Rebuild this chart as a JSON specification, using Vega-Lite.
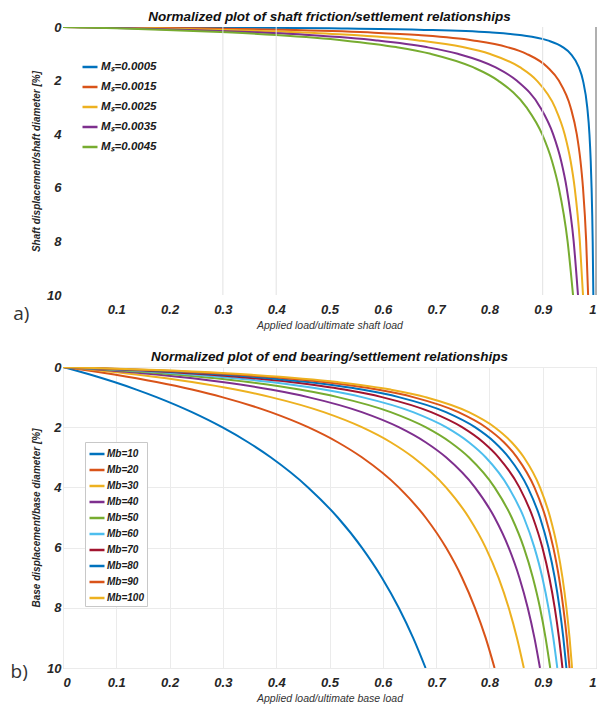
{
  "$schema": "https://vega.github.io/schema/vega-lite/v6.json",
  "background": "white",
  "padding": {"left": 10, "top": 9, "right": 5, "bottom": 3},
  "spacing": 18,
  "config": {
    "font": "Liberation Sans",
    "view": {"stroke": null},
    "title": {"font": "Liberation Sans", "fontSize": 13.5, "fontStyle": "italic", "fontWeight": "bold", "color": "#111111", "offset": -2},
    "axis": {"labelFont": "Liberation Sans", "labelFontSize": 13, "labelFontStyle": "italic", "labelFontWeight": "bold", "labelColor": "#262626", "titleFont": "Liberation Sans", "titleFontStyle": "italic", "titleColor": "#262626", "ticks": false, "tickSize": 0, "domain": false},
    "axisX": {"titleFontSize": 10.5, "titleFontWeight": "normal", "titleColor": "#333333", "labelPadding": 8, "titlePadding": 4},
    "axisY": {"titleFontSize": 10, "titleFontWeight": "bold", "labelPadding": 2, "titlePadding": 5},
    "legend": {"title": null, "labelFont": "Liberation Sans", "labelFontWeight": "bold", "labelFontStyle": "italic", "labelColor": "#1a1a1a", "symbolType": "stroke", "orient": "none"}
  },
  "resolve": {"scale": {"color": "independent"}, "legend": {"color": "independent"}},
  "datasets": {
    "shaft": [
      {"m":"Mₛ=0.0005","x":0,"y":0},{"m":"Mₛ=0.0005","x":0.1667,"y":0.01},{"m":"Mₛ=0.0005","x":0.2857,"y":0.02},{"m":"Mₛ=0.0005","x":0.5,"y":0.05},{"m":"Mₛ=0.0005","x":0.6667,"y":0.1},{"m":"Mₛ=0.0005","x":0.8,"y":0.2},{"m":"Mₛ=0.0005","x":0.8571,"y":0.3},{"m":"Mₛ=0.0005","x":0.9091,"y":0.5},{"m":"Mₛ=0.0005","x":0.9375,"y":0.75},{"m":"Mₛ=0.0005","x":0.9524,"y":1},{"m":"Mₛ=0.0005","x":0.9677,"y":1.5},{"m":"Mₛ=0.0005","x":0.9756,"y":2},{"m":"Mₛ=0.0005","x":0.9836,"y":3},{"m":"Mₛ=0.0005","x":0.9877,"y":4},{"m":"Mₛ=0.0005","x":0.9901,"y":5},{"m":"Mₛ=0.0005","x":0.9917,"y":6},{"m":"Mₛ=0.0005","x":0.9938,"y":8},{"m":"Mₛ=0.0005","x":0.995,"y":10},
      {"m":"Mₛ=0.0015","x":0,"y":0},{"m":"Mₛ=0.0015","x":0.0625,"y":0.01},{"m":"Mₛ=0.0015","x":0.1176,"y":0.02},{"m":"Mₛ=0.0015","x":0.25,"y":0.05},{"m":"Mₛ=0.0015","x":0.4,"y":0.1},{"m":"Mₛ=0.0015","x":0.5714,"y":0.2},{"m":"Mₛ=0.0015","x":0.6667,"y":0.3},{"m":"Mₛ=0.0015","x":0.7692,"y":0.5},{"m":"Mₛ=0.0015","x":0.8333,"y":0.75},{"m":"Mₛ=0.0015","x":0.8696,"y":1},{"m":"Mₛ=0.0015","x":0.9091,"y":1.5},{"m":"Mₛ=0.0015","x":0.9302,"y":2},{"m":"Mₛ=0.0015","x":0.9524,"y":3},{"m":"Mₛ=0.0015","x":0.9639,"y":4},{"m":"Mₛ=0.0015","x":0.9709,"y":5},{"m":"Mₛ=0.0015","x":0.9756,"y":6},{"m":"Mₛ=0.0015","x":0.9816,"y":8},{"m":"Mₛ=0.0015","x":0.9852,"y":10},
      {"m":"Mₛ=0.0025","x":0,"y":0},{"m":"Mₛ=0.0025","x":0.0385,"y":0.01},{"m":"Mₛ=0.0025","x":0.0741,"y":0.02},{"m":"Mₛ=0.0025","x":0.1667,"y":0.05},{"m":"Mₛ=0.0025","x":0.2857,"y":0.1},{"m":"Mₛ=0.0025","x":0.4444,"y":0.2},{"m":"Mₛ=0.0025","x":0.5455,"y":0.3},{"m":"Mₛ=0.0025","x":0.6667,"y":0.5},{"m":"Mₛ=0.0025","x":0.75,"y":0.75},{"m":"Mₛ=0.0025","x":0.8,"y":1},{"m":"Mₛ=0.0025","x":0.8571,"y":1.5},{"m":"Mₛ=0.0025","x":0.8889,"y":2},{"m":"Mₛ=0.0025","x":0.9231,"y":3},{"m":"Mₛ=0.0025","x":0.9412,"y":4},{"m":"Mₛ=0.0025","x":0.9524,"y":5},{"m":"Mₛ=0.0025","x":0.96,"y":6},{"m":"Mₛ=0.0025","x":0.9697,"y":8},{"m":"Mₛ=0.0025","x":0.9756,"y":10},
      {"m":"Mₛ=0.0035","x":0,"y":0},{"m":"Mₛ=0.0035","x":0.0278,"y":0.01},{"m":"Mₛ=0.0035","x":0.0541,"y":0.02},{"m":"Mₛ=0.0035","x":0.125,"y":0.05},{"m":"Mₛ=0.0035","x":0.2222,"y":0.1},{"m":"Mₛ=0.0035","x":0.3636,"y":0.2},{"m":"Mₛ=0.0035","x":0.4615,"y":0.3},{"m":"Mₛ=0.0035","x":0.5882,"y":0.5},{"m":"Mₛ=0.0035","x":0.6818,"y":0.75},{"m":"Mₛ=0.0035","x":0.7407,"y":1},{"m":"Mₛ=0.0035","x":0.8108,"y":1.5},{"m":"Mₛ=0.0035","x":0.8511,"y":2},{"m":"Mₛ=0.0035","x":0.8955,"y":3},{"m":"Mₛ=0.0035","x":0.9195,"y":4},{"m":"Mₛ=0.0035","x":0.9346,"y":5},{"m":"Mₛ=0.0035","x":0.9449,"y":6},{"m":"Mₛ=0.0035","x":0.9581,"y":8},{"m":"Mₛ=0.0035","x":0.9662,"y":10},
      {"m":"Mₛ=0.0045","x":0,"y":0},{"m":"Mₛ=0.0045","x":0.0217,"y":0.01},{"m":"Mₛ=0.0045","x":0.0426,"y":0.02},{"m":"Mₛ=0.0045","x":0.1,"y":0.05},{"m":"Mₛ=0.0045","x":0.1818,"y":0.1},{"m":"Mₛ=0.0045","x":0.3077,"y":0.2},{"m":"Mₛ=0.0045","x":0.4,"y":0.3},{"m":"Mₛ=0.0045","x":0.5263,"y":0.5},{"m":"Mₛ=0.0045","x":0.625,"y":0.75},{"m":"Mₛ=0.0045","x":0.6897,"y":1},{"m":"Mₛ=0.0045","x":0.7692,"y":1.5},{"m":"Mₛ=0.0045","x":0.8163,"y":2},{"m":"Mₛ=0.0045","x":0.8696,"y":3},{"m":"Mₛ=0.0045","x":0.8989,"y":4},{"m":"Mₛ=0.0045","x":0.9174,"y":5},{"m":"Mₛ=0.0045","x":0.9302,"y":6},{"m":"Mₛ=0.0045","x":0.9467,"y":8},{"m":"Mₛ=0.0045","x":0.9569,"y":10}
    ],
    "base": [
      {"m":"Mb=10","x":0,"y":0},{"m":"Mb=10","x":0.0208,"y":0.1},{"m":"Mb=10","x":0.0505,"y":0.25},{"m":"Mb=10","x":0.0962,"y":0.5},{"m":"Mb=10","x":0.1376,"y":0.75},{"m":"Mb=10","x":0.1754,"y":1},{"m":"Mb=10","x":0.2419,"y":1.5},{"m":"Mb=10","x":0.2985,"y":2},{"m":"Mb=10","x":0.3472,"y":2.5},{"m":"Mb=10","x":0.3896,"y":3},{"m":"Mb=10","x":0.4598,"y":4},{"m":"Mb=10","x":0.5155,"y":5},{"m":"Mb=10","x":0.5607,"y":6},{"m":"Mb=10","x":0.5983,"y":7},{"m":"Mb=10","x":0.6299,"y":8},{"m":"Mb=10","x":0.6569,"y":9},{"m":"Mb=10","x":0.6803,"y":10},
      {"m":"Mb=20","x":0,"y":0},{"m":"Mb=20","x":0.0408,"y":0.1},{"m":"Mb=20","x":0.0962,"y":0.25},{"m":"Mb=20","x":0.1754,"y":0.5},{"m":"Mb=20","x":0.2419,"y":0.75},{"m":"Mb=20","x":0.2985,"y":1},{"m":"Mb=20","x":0.3896,"y":1.5},{"m":"Mb=20","x":0.4598,"y":2},{"m":"Mb=20","x":0.5155,"y":2.5},{"m":"Mb=20","x":0.5607,"y":3},{"m":"Mb=20","x":0.6299,"y":4},{"m":"Mb=20","x":0.6803,"y":5},{"m":"Mb=20","x":0.7186,"y":6},{"m":"Mb=20","x":0.7487,"y":7},{"m":"Mb=20","x":0.7729,"y":8},{"m":"Mb=20","x":0.793,"y":9},{"m":"Mb=20","x":0.8097,"y":10},
      {"m":"Mb=30","x":0,"y":0},{"m":"Mb=30","x":0.06,"y":0.1},{"m":"Mb=30","x":0.1376,"y":0.25},{"m":"Mb=30","x":0.2419,"y":0.5},{"m":"Mb=30","x":0.3237,"y":0.75},{"m":"Mb=30","x":0.3896,"y":1},{"m":"Mb=30","x":0.4891,"y":1.5},{"m":"Mb=30","x":0.5607,"y":2},{"m":"Mb=30","x":0.6148,"y":2.5},{"m":"Mb=30","x":0.6569,"y":3},{"m":"Mb=30","x":0.7186,"y":4},{"m":"Mb=30","x":0.7614,"y":5},{"m":"Mb=30","x":0.793,"y":6},{"m":"Mb=30","x":0.8171,"y":7},{"m":"Mb=30","x":0.8362,"y":8},{"m":"Mb=30","x":0.8517,"y":9},{"m":"Mb=30","x":0.8646,"y":10},
      {"m":"Mb=40","x":0,"y":0},{"m":"Mb=40","x":0.0784,"y":0.1},{"m":"Mb=40","x":0.1754,"y":0.25},{"m":"Mb=40","x":0.2985,"y":0.5},{"m":"Mb=40","x":0.3896,"y":0.75},{"m":"Mb=40","x":0.4598,"y":1},{"m":"Mb=40","x":0.5607,"y":1.5},{"m":"Mb=40","x":0.6299,"y":2},{"m":"Mb=40","x":0.6803,"y":2.5},{"m":"Mb=40","x":0.7186,"y":3},{"m":"Mb=40","x":0.7729,"y":4},{"m":"Mb=40","x":0.8097,"y":5},{"m":"Mb=40","x":0.8362,"y":6},{"m":"Mb=40","x":0.8563,"y":7},{"m":"Mb=40","x":0.8719,"y":8},{"m":"Mb=40","x":0.8845,"y":9},{"m":"Mb=40","x":0.8949,"y":10},
      {"m":"Mb=50","x":0,"y":0},{"m":"Mb=50","x":0.0962,"y":0.1},{"m":"Mb=50","x":0.2101,"y":0.25},{"m":"Mb=50","x":0.3472,"y":0.5},{"m":"Mb=50","x":0.4438,"y":0.75},{"m":"Mb=50","x":0.5155,"y":1},{"m":"Mb=50","x":0.6148,"y":1.5},{"m":"Mb=50","x":0.6803,"y":2},{"m":"Mb=50","x":0.7267,"y":2.5},{"m":"Mb=50","x":0.7614,"y":3},{"m":"Mb=50","x":0.8097,"y":4},{"m":"Mb=50","x":0.8418,"y":5},{"m":"Mb=50","x":0.8646,"y":6},{"m":"Mb=50","x":0.8816,"y":7},{"m":"Mb=50","x":0.8949,"y":8},{"m":"Mb=50","x":0.9054,"y":9},{"m":"Mb=50","x":0.9141,"y":10},
      {"m":"Mb=60","x":0,"y":0},{"m":"Mb=60","x":0.1132,"y":0.1},{"m":"Mb=60","x":0.2419,"y":0.25},{"m":"Mb=60","x":0.3896,"y":0.5},{"m":"Mb=60","x":0.4891,"y":0.75},{"m":"Mb=60","x":0.5607,"y":1},{"m":"Mb=60","x":0.6569,"y":1.5},{"m":"Mb=60","x":0.7186,"y":2},{"m":"Mb=60","x":0.7614,"y":2.5},{"m":"Mb=60","x":0.793,"y":3},{"m":"Mb=60","x":0.8362,"y":4},{"m":"Mb=60","x":0.8646,"y":5},{"m":"Mb=60","x":0.8845,"y":6},{"m":"Mb=60","x":0.8994,"y":7},{"m":"Mb=60","x":0.9108,"y":8},{"m":"Mb=60","x":0.9199,"y":9},{"m":"Mb=60","x":0.9274,"y":10},
      {"m":"Mb=70","x":0,"y":0},{"m":"Mb=70","x":0.1296,"y":0.1},{"m":"Mb=70","x":0.2713,"y":0.25},{"m":"Mb=70","x":0.4268,"y":0.5},{"m":"Mb=70","x":0.5276,"y":0.75},{"m":"Mb=70","x":0.5983,"y":1},{"m":"Mb=70","x":0.6908,"y":1.5},{"m":"Mb=70","x":0.7487,"y":2},{"m":"Mb=70","x":0.7883,"y":2.5},{"m":"Mb=70","x":0.8171,"y":3},{"m":"Mb=70","x":0.8563,"y":4},{"m":"Mb=70","x":0.8816,"y":5},{"m":"Mb=70","x":0.8994,"y":6},{"m":"Mb=70","x":0.9125,"y":7},{"m":"Mb=70","x":0.9226,"y":8},{"m":"Mb=70","x":0.9306,"y":9},{"m":"Mb=70","x":0.9371,"y":10},
      {"m":"Mb=80","x":0,"y":0},{"m":"Mb=80","x":0.1455,"y":0.1},{"m":"Mb=80","x":0.2985,"y":0.25},{"m":"Mb=80","x":0.4598,"y":0.5},{"m":"Mb=80","x":0.5607,"y":0.75},{"m":"Mb=80","x":0.6299,"y":1},{"m":"Mb=80","x":0.7186,"y":1.5},{"m":"Mb=80","x":0.7729,"y":2},{"m":"Mb=80","x":0.8097,"y":2.5},{"m":"Mb=80","x":0.8362,"y":3},{"m":"Mb=80","x":0.8719,"y":4},{"m":"Mb=80","x":0.8949,"y":5},{"m":"Mb=80","x":0.9108,"y":6},{"m":"Mb=80","x":0.9226,"y":7},{"m":"Mb=80","x":0.9316,"y":8},{"m":"Mb=80","x":0.9387,"y":9},{"m":"Mb=80","x":0.9445,"y":10},
      {"m":"Mb=90","x":0,"y":0},{"m":"Mb=90","x":0.1607,"y":0.1},{"m":"Mb=90","x":0.3237,"y":0.25},{"m":"Mb=90","x":0.4891,"y":0.5},{"m":"Mb=90","x":0.5895,"y":0.75},{"m":"Mb=90","x":0.6569,"y":1},{"m":"Mb=90","x":0.7418,"y":1.5},{"m":"Mb=90","x":0.793,"y":2},{"m":"Mb=90","x":0.8272,"y":2.5},{"m":"Mb=90","x":0.8517,"y":3},{"m":"Mb=90","x":0.8845,"y":4},{"m":"Mb=90","x":0.9054,"y":5},{"m":"Mb=90","x":0.9199,"y":6},{"m":"Mb=90","x":0.9306,"y":7},{"m":"Mb=90","x":0.9387,"y":8},{"m":"Mb=90","x":0.9452,"y":9},{"m":"Mb=90","x":0.9504,"y":10},
      {"m":"Mb=100","x":0,"y":0},{"m":"Mb=100","x":0.1754,"y":0.1},{"m":"Mb=100","x":0.3472,"y":0.25},{"m":"Mb=100","x":0.5155,"y":0.5},{"m":"Mb=100","x":0.6148,"y":0.75},{"m":"Mb=100","x":0.6803,"y":1},{"m":"Mb=100","x":0.7614,"y":1.5},{"m":"Mb=100","x":0.8097,"y":2},{"m":"Mb=100","x":0.8418,"y":2.5},{"m":"Mb=100","x":0.8646,"y":3},{"m":"Mb=100","x":0.8949,"y":4},{"m":"Mb=100","x":0.9141,"y":5},{"m":"Mb=100","x":0.9274,"y":6},{"m":"Mb=100","x":0.9371,"y":7},{"m":"Mb=100","x":0.9445,"y":8},{"m":"Mb=100","x":0.9504,"y":9},{"m":"Mb=100","x":0.9551,"y":10}
    ]
  },
  "vconcat": [
    {
      "title": {"text": "a)", "orient": "left", "anchor": "start", "angle": 0, "align": "right", "baseline": "bottom", "dy": -7, "font": "Open Sans", "fontSize": 19, "fontStyle": "normal", "fontWeight": "normal", "color": "#333333", "offset": -14},
      "vconcat": [
        {
          "title": {"text": "Normalized plot of shaft friction/settlement relationships"},
          "width": 533,
          "height": 268,
          "layer": [
            {
              "data": {"name": "shaft"},
              "mark": {"type": "line", "interpolate": "monotone", "strokeWidth": 2, "clip": true},
              "encoding": {
                "x": {"field": "x", "type": "quantitative", "scale": {"domain": [0, 1], "nice": false}, "axis": {"title": "Applied load/ultimate shaft load", "values": [0.1, 0.2, 0.3, 0.4, 0.5, 0.6, 0.7, 0.8, 0.9, 1], "format": "~g", "grid": false}},
                "y": {"field": "y", "type": "quantitative", "scale": {"domain": [0, 10], "reverse": true, "nice": false}, "axis": {"title": "Shaft displacement/shaft diameter [%]", "values": [0, 2, 4, 6, 8, 10], "grid": false}},
                "color": {"field": "m", "type": "nominal", "scale": {"domain": ["Mₛ=0.0005", "Mₛ=0.0015", "Mₛ=0.0025", "Mₛ=0.0035", "Mₛ=0.0045"], "range": ["#0072BD", "#D95319", "#EDB120", "#7E2F8E", "#77AC30"]},
                  "legend": {"legendX": 16, "legendY": 29, "labelFontSize": 11.5, "symbolSize": 225, "symbolStrokeWidth": 2.5, "rowPadding": 5, "labelOffset": 2, "padding": 2}}
              }
            },
            {
              "data": {"values": [{"x": 0.3}, {"x": 0.4}, {"x": 0.9}]},
              "mark": {"type": "rule", "color": "#e2e2e2", "strokeWidth": 1},
              "encoding": {"x": {"field": "x", "type": "quantitative"}}
            },
            {
              "data": {"values": [{"x": 1}]},
              "mark": {"type": "rule", "color": "#b0b0b0", "strokeWidth": 2},
              "encoding": {"x": {"field": "x", "type": "quantitative"}}
            }
          ]
        }
      ]
    },
    {
      "title": {"text": "b)", "orient": "left", "anchor": "start", "angle": 0, "align": "right", "baseline": "bottom", "dy": -22, "font": "Open Sans", "fontSize": 19, "fontStyle": "normal", "fontWeight": "normal", "color": "#333333", "offset": -14},
      "vconcat": [
        {
          "title": {"text": "Normalized plot of end bearing/settlement relationships"},
          "width": 533,
          "height": 301,
          "view": {"stroke": "#c8c8c8"},
          "layer": [
            {
              "data": {"name": "base"},
              "mark": {"type": "line", "interpolate": "monotone", "strokeWidth": 2, "clip": true},
              "encoding": {
                "x": {"field": "x", "type": "quantitative", "scale": {"domain": [0, 1], "nice": false}, "axis": {"title": "Applied load/ultimate base load", "values": [0, 0.1, 0.2, 0.3, 0.4, 0.5, 0.6, 0.7, 0.8, 0.9, 1], "format": "~g", "grid": true, "gridColor": "#ebebeb"}},
                "y": {"field": "y", "type": "quantitative", "scale": {"domain": [0, 10], "reverse": true, "nice": false}, "axis": {"title": "Base displacement/base diameter [%]", "values": [0, 2, 4, 6, 8, 10], "grid": true, "gridColor": "#ebebeb"}},
                "color": {"field": "m", "type": "nominal", "scale": {"domain": ["Mb=10", "Mb=20", "Mb=30", "Mb=40", "Mb=50", "Mb=60", "Mb=70", "Mb=80", "Mb=90", "Mb=100"], "range": ["#0072BD", "#D95319", "#EDB120", "#7E2F8E", "#77AC30", "#4DBEEE", "#A2142F", "#0072BD", "#D95319", "#EDB120"]},
                  "legend": {"legendX": 22, "legendY": 75, "labelFontSize": 10, "symbolSize": 225, "symbolStrokeWidth": 2.5, "rowPadding": 2, "labelOffset": 1, "padding": 3, "strokeColor": "#c8c8c8", "fillColor": "white"}}
              }
            }
          ]
        }
      ]
    }
  ]
}
